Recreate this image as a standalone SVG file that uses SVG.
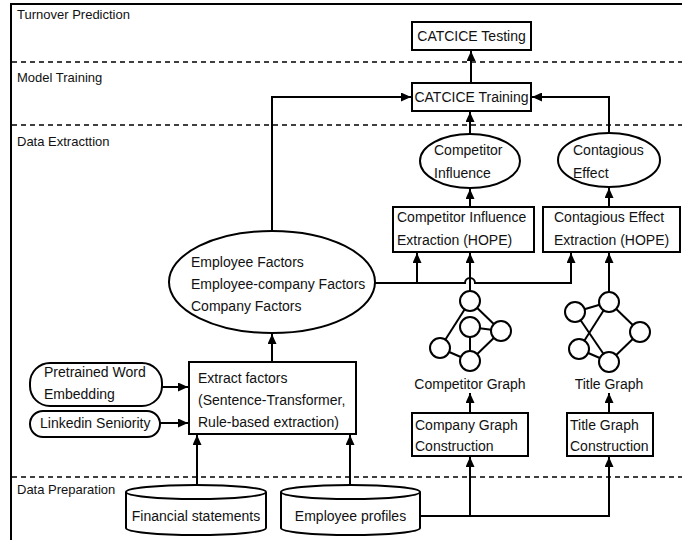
<svg xmlns="http://www.w3.org/2000/svg" width="682" height="540" viewBox="0 0 682 540">
<defs>
<marker id="ah" markerUnits="userSpaceOnUse" markerWidth="10" markerHeight="9" refX="10" refY="4.5" orient="auto"><path d="M0,0 L10,4.5 L0,9 z" fill="#000"/></marker>
<style>
text{font-family:"Liberation Sans",Arial,sans-serif;font-size:14px;fill:#111}
.lane{font-size:13px}
.sh{fill:#fff;stroke:#000;stroke-width:2}
.ln{fill:none;stroke:#000;stroke-width:2}
.ar{fill:none;stroke:#000;stroke-width:2;marker-end:url(#ah)}
.dash{stroke:#000;stroke-width:1.6;stroke-dasharray:5,4}
.c{text-anchor:middle}
</style>
</defs>
<rect width="682" height="540" fill="#fff"/>
<rect x="11" y="4" width="690" height="560" fill="none" stroke="#000" stroke-width="2"/>
<g id="lanes">
<line class="dash" x1="12" y1="62" x2="682" y2="62"/>
<line class="dash" x1="12" y1="125" x2="682" y2="125"/>
<line class="dash" x1="12" y1="477" x2="682" y2="477"/>
<text class="lane" x="17" y="19">Turnover Prediction</text>
<text class="lane" x="17" y="82">Model Training</text>
<text class="lane" x="17" y="146">Data Extracttion</text>
<text class="lane" x="17" y="494">Data Preparation</text>
</g>
<g id="connectors">
<line class="ar" x1="471" y1="83" x2="471" y2="51"/>
<polyline class="ar" points="272,231 272,97 411,97"/>
<polyline class="ar" points="609,134 609,97 532,97"/>
<line class="ar" x1="470" y1="134" x2="470" y2="112"/>
<line class="ar" x1="470" y1="207" x2="470" y2="189"/>
<line class="ar" x1="609" y1="207" x2="609" y2="188"/>
<path class="ln" d="M375,283 L465,283 A5,5 0 0 1 475,283 L571,283"/>
<line class="ar" x1="571" y1="284" x2="571" y2="253"/>
<line class="ar" x1="417" y1="284" x2="417" y2="253"/>
<line class="ar" x1="470" y1="291" x2="470" y2="253"/>
<line class="ar" x1="609" y1="292" x2="609" y2="253"/>
<line class="ar" x1="470" y1="412" x2="470" y2="393"/>
<line class="ar" x1="609" y1="412" x2="609" y2="393"/>
<polyline class="ln" points="420,516 609,516"/>
<line class="ar" x1="609" y1="517" x2="609" y2="457"/>
<line class="ar" x1="470" y1="517" x2="470" y2="457"/>
<line class="ar" x1="197" y1="485" x2="197" y2="435"/>
<line class="ar" x1="350" y1="485" x2="350" y2="435"/>
<line class="ar" x1="162" y1="387" x2="188" y2="387"/>
<line class="ar" x1="160" y1="423" x2="188" y2="423"/>
<line class="ar" x1="272" y1="362" x2="272" y2="334"/>
</g>
<g id="catcice-testing">
<rect class="sh" x="412" y="22" width="119" height="28"/>
<text class="c" x="471.5" y="41">CATCICE Testing</text>
</g>
<g id="catcice-training">
<rect class="sh" x="412" y="83" width="119" height="28"/>
<text class="c" x="471.5" y="102">CATCICE Training</text>
</g>
<g id="competitor-influence">
<ellipse class="sh" cx="470" cy="161" rx="50" ry="27"/>
<text x="434" y="155">Competitor</text>
<text x="434" y="178">Influence</text>
</g>
<g id="contagious-effect">
<ellipse class="sh" cx="609" cy="160" rx="51" ry="27"/>
<text x="573" y="155">Contagious</text>
<text x="573" y="178">Effect</text>
</g>
<g id="competitor-extraction">
<rect class="sh" x="393" y="207" width="141" height="45"/>
<text x="397" y="222">Competitor Influence</text>
<text x="397" y="245">Extraction (HOPE)</text>
</g>
<g id="contagious-extraction">
<rect class="sh" x="543" y="207" width="137" height="45"/>
<text x="554" y="222">Contagious Effect</text>
<text x="554" y="245">Extraction (HOPE)</text>
</g>
<g id="factors">
<ellipse class="sh" cx="272" cy="282" rx="103" ry="51"/>
<text x="191" y="267">Employee Factors</text>
<text x="191" y="289">Employee-company Factors</text>
<text x="191" y="311">Company Factors</text>
</g>
<g id="competitor-graph">
<g class="ln">
<line x1="470" y1="301" x2="440" y2="348"/>
<line x1="470" y1="301" x2="501" y2="331"/>
<line x1="470" y1="327" x2="501" y2="331"/>
<line x1="470" y1="327" x2="470" y2="361"/>
<line x1="440" y1="348" x2="470" y2="361"/>
<line x1="501" y1="331" x2="470" y2="361"/>
</g>
<circle class="sh" cx="470" cy="301" r="10"/>
<circle class="sh" cx="470" cy="327" r="10"/>
<circle class="sh" cx="501" cy="331" r="10"/>
<circle class="sh" cx="440" cy="348" r="10"/>
<circle class="sh" cx="470" cy="361" r="10"/>
<text class="c" x="470" y="389">Competitor Graph</text>
</g>
<g id="title-graph">
<g class="ln">
<line x1="575" y1="312" x2="609" y2="302"/>
<line x1="609" y1="302" x2="640" y2="332"/>
<line x1="609" y1="302" x2="579" y2="349"/>
<line x1="575" y1="312" x2="609" y2="362"/>
<line x1="579" y1="349" x2="609" y2="362"/>
<line x1="640" y1="332" x2="609" y2="362"/>
</g>
<circle class="sh" cx="609" cy="302" r="10"/>
<circle class="sh" cx="575" cy="312" r="10"/>
<circle class="sh" cx="640" cy="332" r="10"/>
<circle class="sh" cx="579" cy="349" r="10"/>
<circle class="sh" cx="609" cy="362" r="10"/>
<text class="c" x="609" y="389">Title Graph</text>
</g>
<g id="extract-factors">
<rect class="sh" x="189" y="362" width="167" height="72"/>
<text x="198" y="383">Extract factors</text>
<text x="198" y="405">(Sentence-Transformer,</text>
<text x="198" y="427">Rule-based extraction)</text>
</g>
<g id="pretrained-word-embedding">
<rect class="sh" x="30" y="363" width="132" height="43" rx="20"/>
<text x="44" y="377">Pretrained Word</text>
<text x="44" y="399">Embedding</text>
</g>
<g id="linkedin-seniority">
<rect class="sh" x="30" y="411" width="130" height="26" rx="13"/>
<text x="40" y="428">Linkedin Seniority</text>
</g>
<g id="company-graph-construction">
<rect class="sh" x="412" y="413" width="116" height="43"/>
<text x="415" y="430">Company Graph</text>
<text x="415" y="451">Construction</text>
</g>
<g id="title-graph-construction">
<rect class="sh" x="567" y="413" width="86" height="43"/>
<text x="570" y="430">Title Graph</text>
<text x="570" y="451">Construction</text>
</g>
<g id="financial-statements">
<path class="sh" d="M126,492 L126,528 A70,7 0 0 0 266,528 L266,492"/>
<ellipse class="sh" cx="196" cy="492" rx="70" ry="7"/>
<text class="c" x="196" y="521">Financial statements</text>
</g>
<g id="employee-profiles">
<path class="sh" d="M281,492 L281,528 A69.5,7 0 0 0 420,528 L420,492"/>
<ellipse class="sh" cx="350.5" cy="492" rx="69.5" ry="7"/>
<text class="c" x="350.5" y="521">Employee profiles</text>
</g>
</svg>
